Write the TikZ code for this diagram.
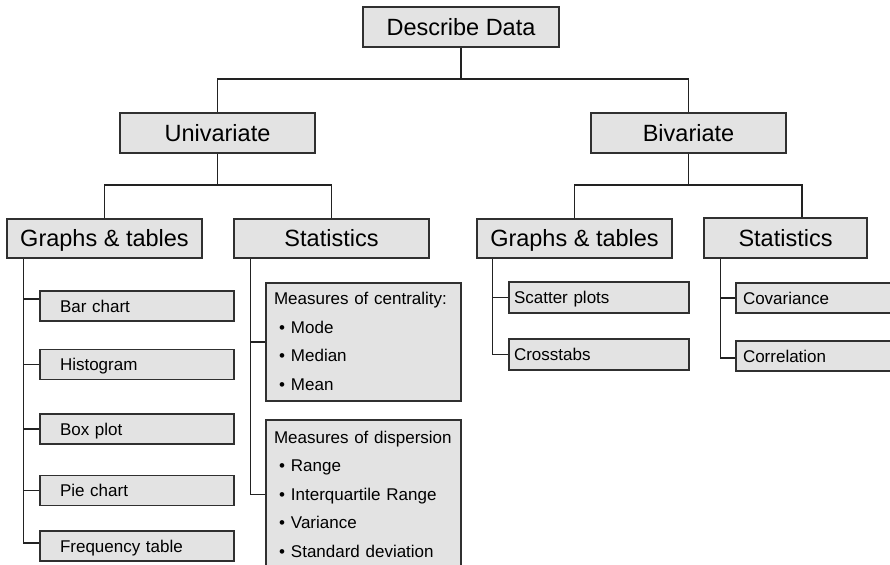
\documentclass[tikz,border=0pt]{standalone}
\usepackage{fontspec}
\setmainfont{Liberation Sans}
\definecolor{boxfill}{HTML}{E3E3E3}
\definecolor{boxline}{HTML}{303030}
\definecolor{linecol}{HTML}{222222}
\begin{document}
\begin{tikzpicture}[x=1pt,y=-1pt,
  box/.style={draw=boxline, fill=boxfill, line width=1.3pt, inner sep=0pt},
  head/.style={box, minimum height=40pt, text height=22pt, text depth=5.2pt, font=\fontsize{23.5}{28}\selectfont},
  leafL/.style={box, minimum height=30pt, text width=154pt, inner xsep=20pt, align=left, text height=15pt, text depth=2.8pt, font=\fontsize{17}{20}\selectfont},
  leafR/.style={box, minimum height=31pt, text width=170pt, inner xsep=5pt, align=left, text height=15pt, text depth=2.8pt, font=\fontsize{17}{20}\selectfont},
  leafS/.style={box, minimum height=30pt, text width=166pt, inner xsep=7pt, align=left, text height=15pt, text depth=2.8pt, font=\fontsize{17}{20}\selectfont},
  listbox/.style={box, minimum width=195pt, text width=179pt, inner xsep=8pt, align=left, font=\fontsize{17}{28.5}\selectfont},
  link/.style={draw=linecol, line width=1.2pt}]
\useasboundingbox (0,0) rectangle (890,564);
\clip (0,0) rectangle (890,564);
\newcommand\bitem[1]{\hspace*{5pt}\textbullet\hspace{6pt}#1}
% top levels
\node[head, minimum width=196pt] (dd) at (461,27) {Describe Data};
\node[head, minimum width=195pt] (uni) at (217.5,133) {Univariate};
\node[head, minimum width=195pt] (bi) at (688.5,133) {Bivariate};
\node[head, minimum width=195pt, minimum height=39pt] (ugt) at (104.5,238.5) {Graphs \& tables};
\node[head, minimum width=195pt, minimum height=39pt] (ust) at (331.5,238.5) {Statistics};
\node[head, minimum width=195pt, minimum height=39pt] (bgt) at (574.5,238.5) {Graphs \& tables};
\node[head, minimum width=163pt, minimum height=40pt] (bst) at (785.5,238) {Statistics};
% univariate graphs
\node[leafL] (bar) at (137,306) {Bar chart};
\node[leafL] (hist) at (137,364.5) {Histogram};
\node[leafL] (boxp) at (137,429) {Box plot};
\node[leafL] (pie) at (137,490.5) {Pie chart};
\node[leafL] (freq) at (137,546) {Frequency table};
% univariate statistics
\node[listbox, minimum height=118pt] (cent) at (363.5,342)
  {\strut Measures of centrality:\\ \strut\bitem{Mode}\\ \strut\bitem{Median}\\ \strut\bitem{Mean}};
\node[listbox, minimum height=149pt] (disp) at (363.5,494.5)
  {\strut Measures of dispersion\\ \strut\bitem{Range}\\ \strut\bitem{Interquartile Range}\\ \strut\bitem{Variance}\\ \strut\bitem{Standard deviation}};
% bivariate
\node[leafR] (scat) at (599,297.5) {Scatter plots};
\node[leafR] (cross) at (599,354.5) {Crosstabs};
\node[leafS] (cov) at (826,298) {Covariance};
\node[leafS] (corr) at (826,356) {Correlation};
% connectors
\coordinate (j0) at (461,79);
\draw[link] (dd.south) -- (j0);
\draw[link] (uni.north) |- (j0) -| (bi.north);
\coordinate (j1) at (217.5,185);
\draw[link] (uni.south) -- (j1);
\draw[link] (ugt.north) |- (j1) -| (ust.north);
\coordinate (j2) at (688.5,185);
\coordinate (bstin) at ([xshift=16.5pt]bst.north);
\draw[link] (bi.south) -- (j2);
\draw[link] (bgt.north) |- (j2) -| (bstin);
% left graphs trunk
\coordinate (t1) at ([xshift=17pt]ugt.south west);
\coordinate (barT) at ([yshift=7pt]bar.west);
\coordinate (freqT) at ([yshift=3pt]freq.west);
\draw[link] (t1) |- (freqT);
\draw[link] (t1 |- barT) -- (barT);
\draw[link] (t1 |- hist.west) -- (hist.west);
\draw[link] (t1 |- boxp.west) -- (boxp.west);
\draw[link] (t1 |- pie.west) -- (pie.west);
% left statistics trunk
\coordinate (t2) at ([xshift=17pt]ust.south west);
\draw[link] (t2) |- (disp.west);
\draw[link] (t2 |- cent.west) -- (cent.west);
% right graphs trunk
\coordinate (t3) at ([xshift=16pt]bgt.south west);
\draw[link] (t3) |- (cross.west);
\draw[link] (t3 |- scat.west) -- (scat.west);
% right statistics trunk
\coordinate (t4) at ([xshift=17pt]bst.south west);
\draw[link] (t4) |- ([yshift=-2pt]corr.west);
\draw[link] (t4 |- cov.west) -- (cov.west);
\end{tikzpicture}
\end{document}
